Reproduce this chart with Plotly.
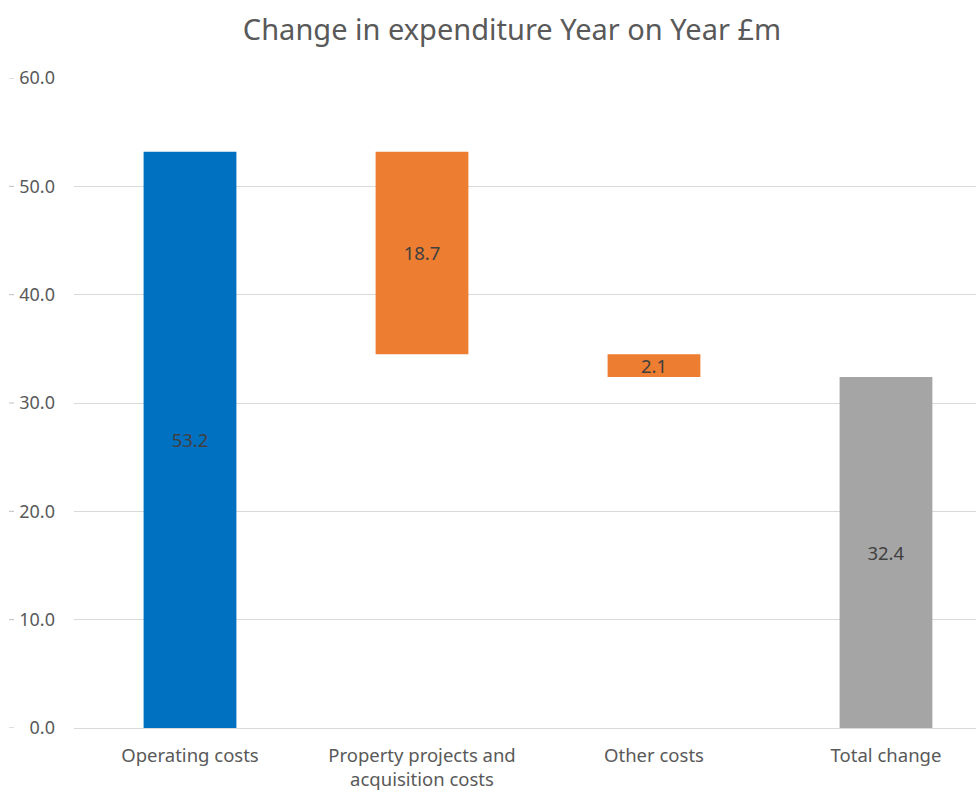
import plotly.graph_objects as go

# Year-on-year expenditure bridge (£m)
categories = ["Operating costs", "Property projects and<br>acquisition costs", "Other costs", "Total change"]
changes = [53.2, -18.7, -2.1, 32.4]
measures = ["relative", "relative", "relative", "total"]
labels = ["53.2", "18.7", "2.1", "32.4"]
y_ticks = [0, 10, 20, 30, 40, 50, 60]

FONT = "Noto Sans"
GREY_TXT = "#595959"

fig = go.Figure(
    go.Waterfall(
        x=categories,
        y=changes,
        measure=measures,
        text=labels,
        textposition="inside",
        insidetextanchor="middle",
        textfont=dict(family=FONT, size=18.5, color="#404040"),
        increasing=dict(marker=dict(color="#0070C0")),
        decreasing=dict(marker=dict(color="#ED7D31")),
        totals=dict(marker=dict(color="#A5A5A5")),
        connector=dict(visible=False),
        width=0.4,
        hoverinfo="skip",
    )
)

# small dash marks to the left of the value labels
shapes = []
for t in y_ticks:
    shapes.append(dict(type="line", xref="paper", yref="y",
                       x0=(9 - 74) / 902, x1=(14 - 74) / 902, y0=t, y1=t,
                       line=dict(color="#BFBFBF", width=1)))

fig.update_layout(
    width=979, height=799,
    margin=dict(l=74, r=3, t=78, b=71),
    paper_bgcolor="white", plot_bgcolor="white",
    showlegend=False,
    shapes=shapes,
    uniformtext=dict(minsize=18, mode="show"),
    title=dict(text="Change in expenditure Year on Year £m",
               x=512 / 979, xref="container", xanchor="center",
               y=1 - 30 / 799, yref="container", yanchor="middle",
               font=dict(family=FONT, size=29, color=GREY_TXT)),
    xaxis=dict(range=[-0.5, 3.388], showgrid=False, showline=False, ticks="",
               ticklabelstandoff=14,
               tickfont=dict(family=FONT, size=18.5, color=GREY_TXT)),
    yaxis=dict(range=[0, 60], tickvals=y_ticks, tickformat=".1f",
               showgrid=True, gridcolor="#D9D9D9", gridwidth=1,
               zeroline=True, zerolinecolor="#D9D9D9", zerolinewidth=1,
               showline=False, ticks="", ticklabelstandoff=18,
               tickfont=dict(family=FONT, size=18, color=GREY_TXT)),
)

fig.write_html("out.html")
